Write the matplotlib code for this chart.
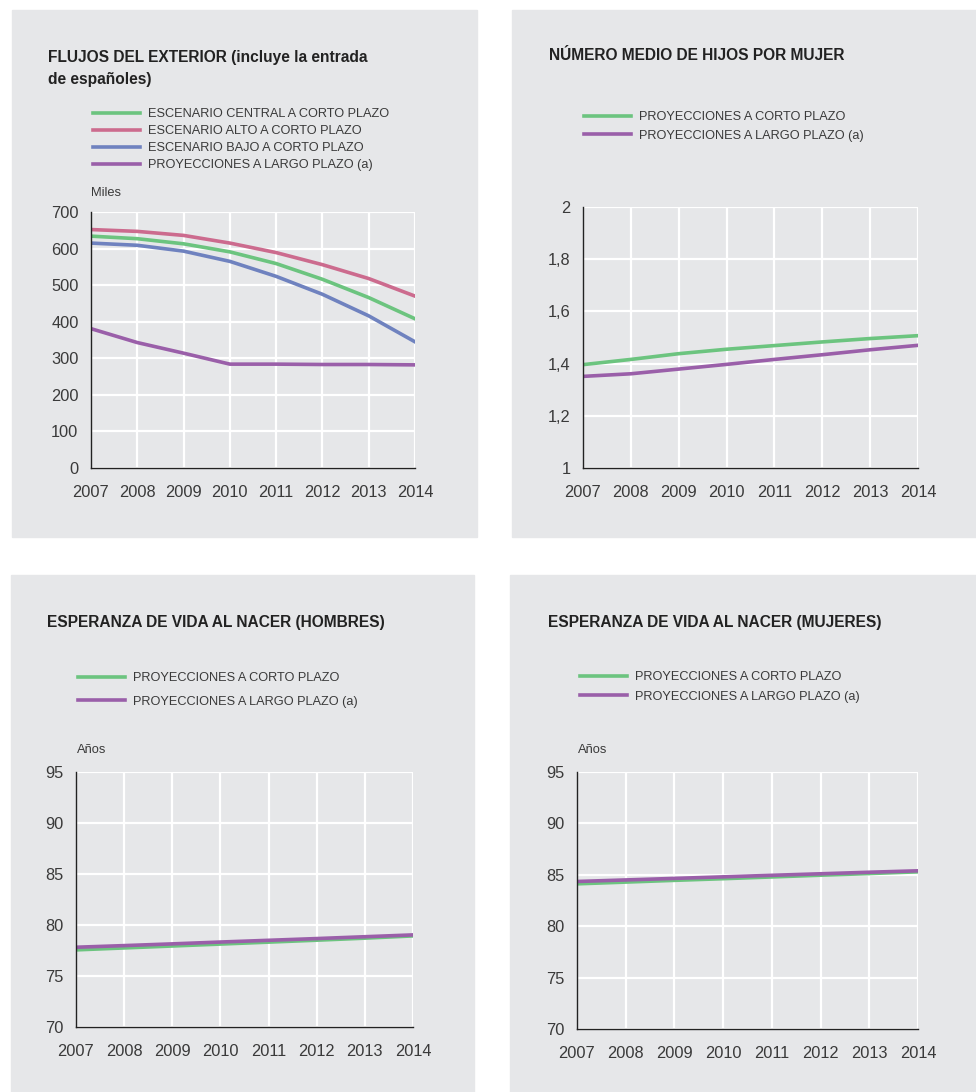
import numpy as np
import matplotlib.pyplot as plt
from matplotlib.patches import Rectangle
from matplotlib.ticker import FuncFormatter

plt.rcParams['font.family'] = ['Liberation Sans', 'DejaVu Sans']

W, H = 976, 1092
BG = '#e6e7e9'
TXT = '#3a3a3a'
GREEN = '#6cc47f'
PINK = '#cc6b8e'
BLUE = '#6f82bf'
PURPLE = '#9a5fa9'

years = [2007, 2008, 2009, 2010, 2011, 2012, 2013, 2014]

# flujos del exterior (miles)
flujos_central = [634, 627, 613, 591, 559, 516, 466, 408]
flujos_alto = [652, 647, 636, 615, 589, 556, 518, 470]
flujos_bajo = [615, 609, 593, 565, 524, 475, 416, 345]
flujos_largo = [381, 343, 314, 284, 284, 283, 283, 282]

# numero medio de hijos por mujer
hijos_corto = [1.396, 1.416, 1.438, 1.455, 1.469, 1.483, 1.496, 1.507]
hijos_largo = [1.351, 1.361, 1.379, 1.397, 1.416, 1.434, 1.453, 1.470]

# esperanza de vida hombres
hombres_corto = [77.56, 77.75, 77.94, 78.13, 78.32, 78.51, 78.71, 78.93]
hombres_largo = [77.82, 77.98, 78.15, 78.33, 78.50, 78.67, 78.85, 79.03]

# esperanza de vida mujeres
mujeres_corto = [84.12, 84.29, 84.46, 84.62, 84.79, 84.96, 85.12, 85.29]
mujeres_largo = [84.35, 84.50, 84.65, 84.80, 84.95, 85.10, 85.25, 85.39]

lbl_central = 'ESCENARIO CENTRAL A CORTO PLAZO'
lbl_alto = 'ESCENARIO ALTO A CORTO PLAZO'
lbl_bajo = 'ESCENARIO BAJO A CORTO PLAZO'
lbl_corto = 'PROYECCIONES A CORTO PLAZO'
lbl_largo = 'PROYECCIONES A LARGO PLAZO (a)'

fig = plt.figure(figsize=(W / 100, H / 100), dpi=100)


def fx(px):
    return px / W


def fy(py):
    return 1 - py / H


def panel(x0, y0, x1, y1):
    fig.patches.append(Rectangle((fx(x0), fy(y1)), fx(x1 - x0), (y1 - y0) / H,
                                 transform=fig.transFigure, color=BG, zorder=-5))


def make_axes(l, t, r, b, yticks, ylim, fmt=None):
    ax = fig.add_axes([fx(l), fy(b), fx(r - l), (b - t) / H])
    ax.set_zorder(2)
    ax.set_facecolor(BG)
    ax.set_xlim(years[0], years[-1])
    ax.set_ylim(*ylim)
    ax.set_xticks(years)
    ax.set_yticks(yticks)
    if fmt is not None:
        ax.yaxis.set_major_formatter(FuncFormatter(fmt))
    ax.grid(True, color='white', lw=1.6)
    ax.set_axisbelow(True)
    for s in ['top', 'right']:
        ax.spines[s].set_visible(False)
    for s in ['left', 'bottom']:
        ax.spines[s].set_color('#222222')
        ax.spines[s].set_linewidth(1.0)
        ax.spines[s].set_zorder(3)
    ax.tick_params(axis='both', length=0, labelsize=11.8, labelcolor=TXT)
    ax.tick_params(axis='x', pad=12)
    ax.tick_params(axis='y', pad=9)
    return ax


def legend(ax, x, y, spacing):
    ax.legend(loc='upper left', bbox_to_anchor=(fx(x), fy(y)),
              bbox_transform=fig.transFigure, frameon=False, fontsize=9.2,
              handlelength=3.7, handletextpad=0.62, borderpad=0,
              borderaxespad=0, labelspacing=spacing, labelcolor=TXT)


# gray panels
panel(12, 10, 477, 537)
panel(512, 10, 976, 537)
panel(11, 575, 474, 1092)
panel(510, 575, 976, 1092)

lw = 2.6

# panel 1
ax1 = make_axes(91, 212, 415, 468, [0, 100, 200, 300, 400, 500, 600, 700], (0, 700))
ax1.plot(years, flujos_central, color=GREEN, lw=lw, label=lbl_central)
ax1.plot(years, flujos_alto, color=PINK, lw=lw, label=lbl_alto)
ax1.plot(years, flujos_bajo, color=BLUE, lw=lw, label=lbl_bajo)
ax1.plot(years, flujos_largo, color=PURPLE, lw=lw, label=lbl_largo)
legend(ax1, 93, 108, 0.4)
fig.text(fx(48), fy(68.5), 'FLUJOS DEL EXTERIOR (incluye la entrada\nde españoles)',
         fontsize=11.2, fontweight='bold', color='#222222', va='center', ha='left',
         linespacing=1.6)
fig.text(fx(91), fy(193), 'Miles', fontsize=9.3, color=TXT, va='center', ha='left')

# panel 2
comma = lambda v, p: ('%g' % v).replace('.', ',')
ax2 = make_axes(583, 207, 918, 468, [1, 1.2, 1.4, 1.6, 1.8, 2], (1, 2), comma)
ax2.plot(years, hijos_corto, color=GREEN, lw=lw, label=lbl_corto)
ax2.plot(years, hijos_largo, color=PURPLE, lw=lw, label=lbl_largo)
legend(ax2, 584, 111, 0.52)
fig.text(fx(549), fy(56), 'NÚMERO MEDIO DE HIJOS POR MUJER', fontsize=11.2,
         fontweight='bold', color='#222222', va='center', ha='left')

# panel 3
ax3 = make_axes(76, 772, 413, 1027, [70, 75, 80, 85, 90, 95], (70, 95))
ax3.plot(years, hombres_corto, color=GREEN, lw=lw, label=lbl_corto)
ax3.plot(years, hombres_largo, color=PURPLE, lw=lw, label=lbl_largo)
legend(ax3, 78, 672, 0.92)
fig.text(fx(47), fy(622), 'ESPERANZA DE VIDA AL NACER (HOMBRES)', fontsize=11.2,
         fontweight='bold', color='#222222', va='center', ha='left')
fig.text(fx(77), fy(750), 'Años', fontsize=9.3, color=TXT, va='center', ha='left')

# panel 4
ax4 = make_axes(577, 772, 918, 1029, [70, 75, 80, 85, 90, 95], (70, 95))
ax4.plot(years, mujeres_corto, color=GREEN, lw=lw, label=lbl_corto)
ax4.plot(years, mujeres_largo, color=PURPLE, lw=lw, label=lbl_largo)
legend(ax4, 580, 671, 0.6)
fig.text(fx(548), fy(622), 'ESPERANZA DE VIDA AL NACER (MUJERES)', fontsize=11.2,
         fontweight='bold', color='#222222', va='center', ha='left')
fig.text(fx(578), fy(750), 'Años', fontsize=9.3, color=TXT, va='center', ha='left')

fig.savefig('out.png', dpi=100)
